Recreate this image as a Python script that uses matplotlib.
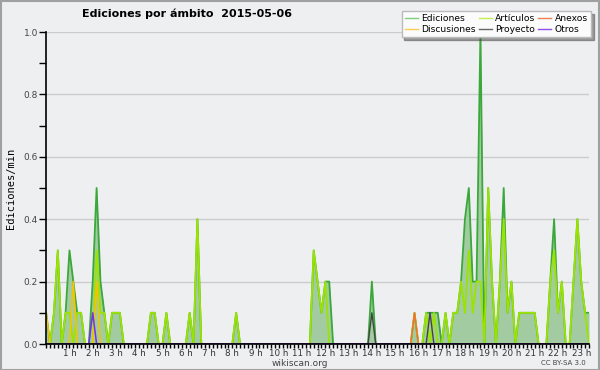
import matplotlib
matplotlib.use("Agg")
import matplotlib.pyplot as plt
from matplotlib.lines import Line2D
from matplotlib.patches import Rectangle
import numpy as np

# edits per minute, one value per 10-minute bin (00:00 .. 23:20)
ediciones = [
    0.1, 0.0, 0.1, 0.3, 0.0, 0.1,  # 0 h
    0.3, 0.2, 0.1, 0.1, 0.0, 0.0,  # 1 h
    0.2, 0.5, 0.2, 0.1, 0.0, 0.1,  # 2 h
    0.1, 0.1, 0.0, 0.0, 0.0, 0.0,  # 3 h
    0.0, 0.0, 0.0, 0.1, 0.1, 0.0,  # 4 h
    0.0, 0.1, 0.0, 0.0, 0.0, 0.0,  # 5 h
    0.0, 0.1, 0.0, 0.4, 0.0, 0.0,  # 6 h
    0.0, 0.0, 0.0, 0.0, 0.0, 0.0,  # 7 h
    0.0, 0.1, 0.0, 0.0, 0.0, 0.0,  # 8 h
    0.0, 0.0, 0.0, 0.0, 0.0, 0.0,  # 9 h
    0.0, 0.0, 0.0, 0.0, 0.0, 0.0,  # 10 h
    0.0, 0.0, 0.0, 0.3, 0.2, 0.1,  # 11 h
    0.2, 0.2, 0.0, 0.0, 0.0, 0.0,  # 12 h
    0.0, 0.0, 0.0, 0.0, 0.0, 0.0,  # 13 h
    0.2, 0.0, 0.0, 0.0, 0.0, 0.0,  # 14 h
    0.0, 0.0, 0.0, 0.0, 0.0, 0.1,  # 15 h
    0.0, 0.0, 0.1, 0.1, 0.1, 0.1,  # 16 h
    0.0, 0.1, 0.0, 0.1, 0.1, 0.2,  # 17 h
    0.4, 0.5, 0.2, 0.2, 1.0, 0.0,  # 18 h
    0.5, 0.2, 0.0, 0.2, 0.5, 0.1,  # 19 h
    0.2, 0.0, 0.1, 0.1, 0.1, 0.1,  # 20 h
    0.1, 0.0, 0.0, 0.0, 0.2, 0.4,  # 21 h
    0.1, 0.2, 0.0, 0.0, 0.2, 0.4,  # 22 h
    0.2, 0.1, 0.1,                 # 23 h
]
articulos = [
    0.0, 0.0, 0.1, 0.3, 0.0, 0.1,
    0.1, 0.0, 0.1, 0.1, 0.0, 0.0,
    0.0, 0.3, 0.1, 0.1, 0.0, 0.1,
    0.1, 0.1, 0.0, 0.0, 0.0, 0.0,
    0.0, 0.0, 0.0, 0.1, 0.1, 0.0,
    0.0, 0.1, 0.0, 0.0, 0.0, 0.0,
    0.0, 0.1, 0.0, 0.4, 0.0, 0.0,
    0.0, 0.0, 0.0, 0.0, 0.0, 0.0,
    0.0, 0.1, 0.0, 0.0, 0.0, 0.0,
    0.0, 0.0, 0.0, 0.0, 0.0, 0.0,
    0.0, 0.0, 0.0, 0.0, 0.0, 0.0,
    0.0, 0.0, 0.0, 0.3, 0.2, 0.1,
    0.2, 0.0, 0.0, 0.0, 0.0, 0.0,
    0.0, 0.0, 0.0, 0.0, 0.0, 0.0,
    0.0, 0.0, 0.0, 0.0, 0.0, 0.0,
    0.0, 0.0, 0.0, 0.0, 0.0, 0.0,
    0.0, 0.0, 0.1, 0.0, 0.1, 0.0,
    0.0, 0.1, 0.0, 0.1, 0.1, 0.2,
    0.1, 0.3, 0.1, 0.2, 0.2, 0.0,
    0.5, 0.2, 0.0, 0.2, 0.4, 0.1,
    0.2, 0.0, 0.1, 0.1, 0.1, 0.1,
    0.1, 0.0, 0.0, 0.0, 0.2, 0.3,
    0.1, 0.2, 0.0, 0.0, 0.2, 0.4,
    0.2, 0.1, 0.0,
]
# sparse namespaces: {bin index: edits/min}
discusiones = {0: 0.1, 7: 0.2, 13: 0.2, 95: 0.1}
anexos = {95: 0.1}
proyecto = {84: 0.1, 99: 0.1}
otros = {12: 0.1}

n = len(ediciones)
hours = np.arange(n) / 6.0


def expand(d):
    a = np.zeros(n)
    for k, v in d.items():
        a[k] = v
    return a


BG = "#eeeff1"
fig = plt.figure(figsize=(6, 3.7), dpi=100, facecolor=BG)
W, H = 600, 370
ax = fig.add_axes([46.2 / W, 1 - 344 / H, (589 - 46.2) / W, (344 - 32) / H])
ax.set_facecolor(BG)

ax.fill_between(hours, ediciones, color="#a2cba2", lw=0, zorder=1)
ax.plot(hours, ediciones, color="#3aa83a", lw=1.3, zorder=2)
ax.plot(hours, articulos, color="#9be300", lw=1.3, zorder=3)
ax.plot(hours, expand(discusiones), color="#f5c400", lw=1.1, zorder=3)
ax.plot(hours, expand(anexos), color="#f07030", lw=1.0, zorder=3)
ax.plot(hours, expand(proyecto), color="#444444", lw=1.0, zorder=4)
ax.plot(hours, expand(otros), color="#7a2cf0", lw=1.1, zorder=4)

ax.set_xlim(0, hours[-1])
ax.set_ylim(0, 1.0)
for s in ["top", "right"]:
    ax.spines[s].set_visible(False)
for s in ["left", "bottom"]:
    ax.spines[s].set_color("black")
    ax.spines[s].set_linewidth(1.2)
    ax.spines[s].set_zorder(5)

ax.set_yticks(np.arange(0, 1.01, 0.2))
ax.set_yticks(np.arange(0.1, 1.0, 0.2), minor=True)
ax.set_yticklabels([f"{v:.1f}" for v in np.arange(0, 1.01, 0.2)])
ax.yaxis.grid(True, color="#cccccc", lw=1, zorder=0)
ax.set_axisbelow(True)
ax.tick_params(axis="y", which="both", length=5, width=1, labelsize=6.5,
               labelcolor="#444444", pad=1)

hour_ticks = list(range(1, 24))
ax.set_xticks(hour_ticks)
ax.set_xticklabels([f"{h} h" for h in hour_ticks])
ax.set_xticks(np.arange(0, hours[-1] + 0.01, 1 / 6), minor=True)
ax.tick_params(axis="x", which="both", length=3, width=1, labelsize=6.3,
               labelcolor="#333333", pad=0.5)

fig.text(187 / W, 1 - 14 / H, "Ediciones por ámbito  2015-05-06",
         ha="center", va="center", fontsize=8, fontweight="bold")
fig.text(11 / W, 1 - 188 / H, "Ediciones/min", rotation=90, ha="center",
         va="center", fontsize=7.5, family="DejaVu Sans Mono")
fig.text(300 / W, 1 - 363 / H, "wikiscan.org", ha="center", va="center",
         fontsize=6.5, color="#444444")
fig.text(563 / W, 1 - 363 / H, "CC BY-SA 3.0", ha="center", va="center",
         fontsize=5, color="#444444")

handles = [
    Line2D([], [], color="#7fcf7f", lw=1), Line2D([], [], color="#f5d050", lw=1),
    Line2D([], [], color="#c3ef50", lw=1), Line2D([], [], color="#666666", lw=1),
    Line2D([], [], color="#f08050", lw=1), Line2D([], [], color="#9050f0", lw=1),
]
labels = ["Ediciones", "Discusiones", "Artículos", "Proyecto", "Anexos", "Otros"]
leg = fig.legend(handles, labels, ncol=3, loc="upper right",
                 bbox_to_anchor=(591 / W, 1 - 11 / H), fontsize=6.6,
                 frameon=True, fancybox=False, shadow=True, edgecolor="#bbbbbb",
                 handlelength=1.4, handletextpad=0.4, columnspacing=0.3,
                 labelspacing=0.2, borderpad=0.35, borderaxespad=0)
leg.get_frame().set_facecolor("#fbfbfb")
leg.get_frame().set_alpha(1)

fig.patches.append(Rectangle((0.5 / W, 0.5 / H), 1 - 1.5 / W, 1 - 1.5 / H,
                             transform=fig.transFigure, fill=False,
                             edgecolor="#a0a0a0", lw=1.5))

fig.savefig("out.png", dpi=100, facecolor=BG)
